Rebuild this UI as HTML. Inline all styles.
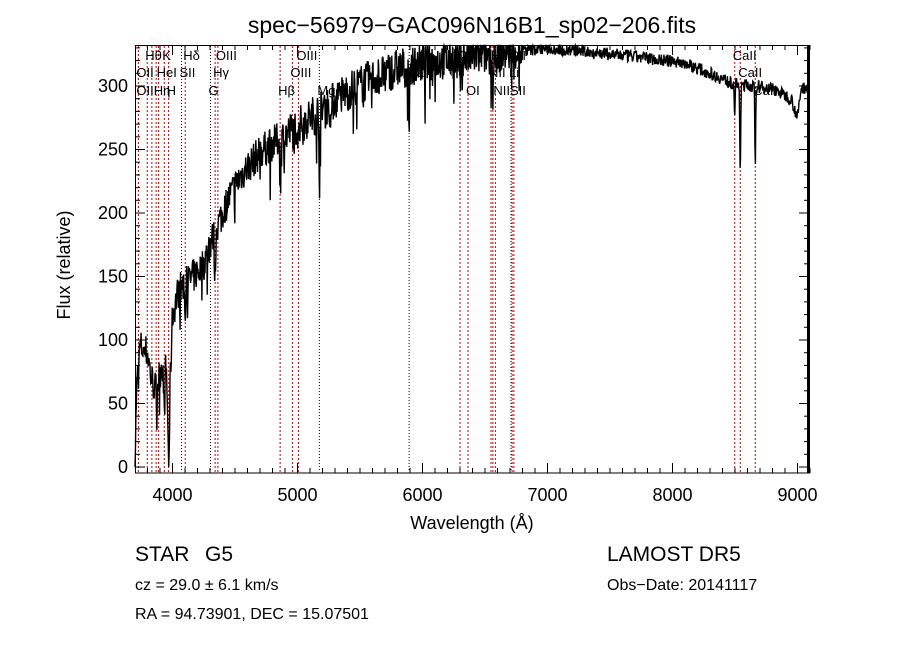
<!DOCTYPE html>
<html><head><meta charset="utf-8"><style>
html,body{margin:0;padding:0;background:#fff;}
svg{display:block;font-family:"Liberation Sans",sans-serif;}
</style></head><body>
<svg id="s" width="900" height="649" viewBox="0 0 900 649" xmlns="http://www.w3.org/2000/svg">
<rect width="900" height="649" fill="#fff"/>
<text x="472" y="33" font-size="23" text-anchor="middle" fill="#000">spec−56979−GAC096N16B1_sp02−206.fits</text>
<g id="lines"></g>
<g id="labels" font-size="13" fill="#000"></g>
<path id="spec" fill="none" stroke="#000" stroke-width="1.4"/>
<rect x="135.5" y="45.5" width="674" height="427.5" fill="none" stroke="#000" stroke-width="1"/>
<line x1="808" y1="45" x2="808" y2="473" stroke="#000" stroke-width="2"/>
<g id="ticks" stroke="#000" stroke-width="1"></g>
<g id="tl" font-size="18" fill="#000"></g>
<text x="472" y="529" font-size="18" text-anchor="middle">Wavelength (Å)</text>
<text transform="translate(70,265) rotate(-90)" font-size="18" text-anchor="middle">Flux (relative)</text>
<text x="135" y="561" font-size="21">STAR</text>
<text x="205" y="561" font-size="21">G5</text>
<text x="607" y="561" font-size="21">LAMOST DR5</text>
<text x="135" y="590" font-size="16">cz = 29.0 ± 6.1 km/s</text>
<text x="607" y="590" font-size="16">Obs−Date: 20141117</text>
<text x="135" y="619" font-size="16">RA =  94.73901, DEC =  15.07501</text>
</svg>
<script>
var NS="http://www.w3.org/2000/svg";
function X(l){return 135+(l-3700)*0.125;}
function Y(f){return 467-f*1.27;}
function el(t,a,p){var e=document.createElementNS(NS,t);for(var k in a)e.setAttribute(k,a[k]);p.appendChild(e);return e;}
var L=document.getElementById('lines');
var red=[3727,3798,3835,3869,3889,3934,3969,4102,4341,4363,4861,4959,5007,6300,6364,6548,6563,6583,6717,6731,8498,8542,8662];
var blk=[4072,4304,5175,5893,6708];
red.forEach(function(l){el('line',{x1:X(l),x2:X(l),y1:46,y2:472,stroke:'#c00000','stroke-dasharray':'2,2','stroke-width':1},L);});
blk.forEach(function(l){el('line',{x1:X(l),x2:X(l),y1:46,y2:472,stroke:'#000','stroke-dasharray':'1,2','stroke-width':1},L);});
var lab=[["Hθ",3798,60],["K",3934,60],["Hδ",4102,60],["OIII",4363,60],["OIII",5007,60],["OI",6300,60],["Hα",6563,60],["SII",6717,60],["CaII",8498,60],
["OII",3727,77],["HeI",3889,77],["SII",4072,77],["Hγ",4341,77],["OIII",4959,77],["Na",5893,77],["NII",6548,77],["Li",6708,77],["CaII",8542,77],
["OIIHη",3727,95],["H",3969,95],["G",4304,95],["Hβ",4861,95],["Mg",5175,95],["OI",6364,95],["NIISII",6583,95],["CaII",8662,95]];
var G=document.getElementById('labels');
lab.forEach(function(a){var t=el('text',{x:X(a[1])-2,y:a[2]},G);t.textContent=a[0];});
var T=document.getElementById('ticks'),TL=document.getElementById('tl');
for(var l=3800;l<=9100;l+=100){var big=l%1000==0,h=big?10:5;var x=X(l);
el('line',{x1:x,x2:x,y1:473,y2:473-h},T);el('line',{x1:x,x2:x,y1:45,y2:45+h},T);
if(big){var t=el('text',{x:x,y:501,'text-anchor':'middle'},TL);t.textContent=l;}}
for(var f=0;f<=330;f+=10){var big=f%50==0,w=big?10:5;var y=Y(f);
el('line',{x1:135,x2:135+w,y1:y,y2:y},T);el('line',{x1:809,x2:809-w,y1:y,y2:y},T);
if(big){var t=el('text',{x:128,y:y+6,'text-anchor':'end'},TL);t.textContent=f;}}
var cont=[[3700,0],[3712,60],[3740,95],[3800,90],[3830,70],[3870,60],[3900,75],[3940,90],[3960,60],[3975,50],[4000,120],[4050,140],[4150,148],[4250,160],[4300,175],[4380,195],[4450,212],[4550,230],[4700,248],[4850,258],[5000,268],[5200,282],[5400,296],[5600,306],[5800,314],[6000,318],[6300,322],[6600,326],[7000,330],[7400,326],[7800,322],[8100,318],[8300,310],[8480,302],[8800,298],[8950,290],[9000,275],[9030,298],[9100,300]];
function C(l){for(var i=0;i<cont.length-1;i++){if(l<=cont[i+1][0]){var a=cont[i],b=cont[i+1];return a[1]+(b[1]-a[1])*(l-a[0])/(b[0]-a[0]);}}return 300;}
var seed=7;function r(){seed=(seed*16807)%2147483647;return seed/2147483647;}
var dips=[[3934,45,8],[3969,50,8],[4102,20,6],[4340,40,6],[4861,30,5],[5175,40,6],[5270,15,5],[5893,40,6],[6300,25,5],[6563,35,5],[8498,30,4],[8542,75,5],[8662,65,5]];
var d="";for(var l=3700;l<=9080;l+=3.5){var f=C(l);var amp=l<4900?14:(l<6800?16:5);f+=(r()-0.5)*amp*2;if(r()<0.07&&l<6800)f-=r()*35;
dips.forEach(function(p){var z=(l-p[0])/p[2];f-=p[1]*Math.exp(-z*z);});
if(f<0)f=0;if(f>332)f=332;d+=(d?"L":"M")+X(l).toFixed(1)+","+Y(f).toFixed(1);}
document.getElementById('spec').setAttribute('d',d);
</script>
</body></html>
